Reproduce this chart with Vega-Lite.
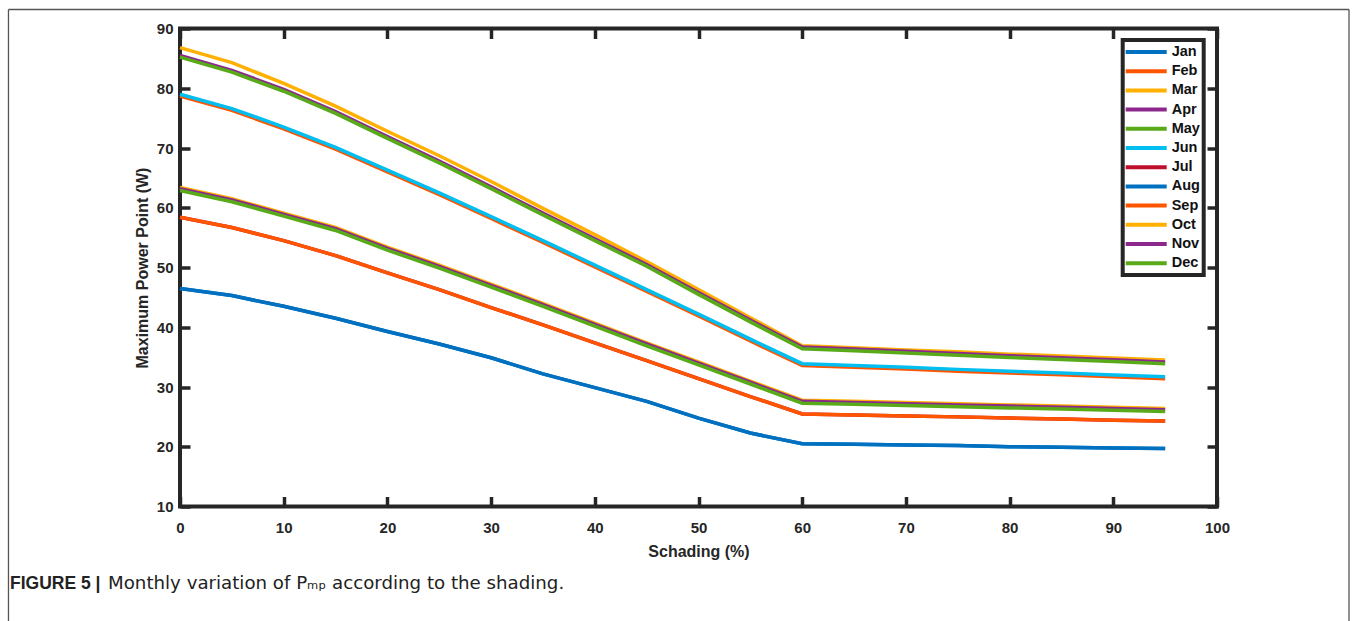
{
  "$schema": "https://vega.github.io/schema/vega-lite/v6.json",
  "width": 1037,
  "height": 478,
  "autosize": {"type": "none"},
  "padding": {"left": 180, "top": 28.5, "right": 140, "bottom": 114.5},
  "background": "white",
  "config": {
    "view": {"stroke": "#262626", "strokeWidth": 4},
    "font": "Liberation Sans",
    "axis": {
      "grid": false,
      "domain": false,
      "tickColor": "#262626",
      "tickWidth": 3.5,
      "tickSize": -10,
      "labelFont": "Liberation Sans",
      "labelFontWeight": "bold",
      "labelFontSize": 15,
      "labelColor": "#262626",
      "titleFont": "Liberation Sans",
      "titleFontWeight": "bold",
      "titleFontSize": 16,
      "titleColor": "#262626"
    },
    "legend": {
      "strokeColor": "#262626",
      "strokeWidth": 4,
      "fillColor": "white",
      "padding": 3,
      "rowPadding": 2.2,
      "symbolType": "M-3,0H3",
      "symbolSize": 187,
      "symbolStrokeWidth": 4,
      "symbolOffset": 11.5,
      "labelOffset": 16.5,
      "labelFont": "Liberation Sans",
      "labelFontWeight": "bold",
      "labelFontSize": 14.5,
      "labelColor": "#111111"
    }
  },
  "datasets": {
    "pmp": [
      {"s": 0, "Jan": 46.5, "Feb": 78.7, "Mar": 63.4, "Apr": 63.2, "May": 62.9, "Jun": 79.0, "Jul": 58.4, "Aug": 46.5, "Sep": 58.4, "Oct": 86.8, "Nov": 85.5, "Dec": 85.2},
      {"s": 5, "Jan": 45.3, "Feb": 76.3, "Mar": 61.5, "Apr": 61.3, "May": 61.0, "Jun": 76.6, "Jul": 56.7, "Aug": 45.3, "Sep": 56.7, "Oct": 84.3, "Nov": 83.0, "Dec": 82.7},
      {"s": 10, "Jan": 43.5, "Feb": 73.2, "Mar": 59.1, "Apr": 58.9, "May": 58.6, "Jun": 73.5, "Jul": 54.5, "Aug": 43.5, "Sep": 54.5, "Oct": 80.8, "Nov": 79.8, "Dec": 79.5},
      {"s": 15, "Jan": 41.5, "Feb": 69.8, "Mar": 56.7, "Apr": 56.5, "May": 56.2, "Jun": 70.1, "Jul": 52.0, "Aug": 41.5, "Sep": 52.0, "Oct": 77.0, "Nov": 76.1, "Dec": 75.8},
      {"s": 20, "Jan": 39.3, "Feb": 66.0, "Mar": 53.4, "Apr": 53.2, "May": 52.9, "Jun": 66.3, "Jul": 49.1, "Aug": 39.3, "Sep": 49.1, "Oct": 72.8, "Nov": 71.9, "Dec": 71.6},
      {"s": 25, "Jan": 37.2, "Feb": 62.2, "Mar": 50.4, "Apr": 50.2, "May": 49.9, "Jun": 62.5, "Jul": 46.3, "Aug": 37.2, "Sep": 46.3, "Oct": 68.7, "Nov": 67.8, "Dec": 67.5},
      {"s": 30, "Jan": 34.9, "Feb": 58.2, "Mar": 47.2, "Apr": 47.0, "May": 46.7, "Jun": 58.5, "Jul": 43.3, "Aug": 34.9, "Sep": 43.3, "Oct": 64.4, "Nov": 63.5, "Dec": 63.2},
      {"s": 35, "Jan": 32.2, "Feb": 54.2, "Mar": 44.0, "Apr": 43.8, "May": 43.5, "Jun": 54.5, "Jul": 40.4, "Aug": 32.2, "Sep": 40.4, "Oct": 59.9, "Nov": 59.1, "Dec": 58.8},
      {"s": 40, "Jan": 29.9, "Feb": 50.1, "Mar": 40.7, "Apr": 40.5, "May": 40.2, "Jun": 50.4, "Jul": 37.4, "Aug": 29.9, "Sep": 37.4, "Oct": 55.5, "Nov": 54.8, "Dec": 54.5},
      {"s": 45, "Jan": 27.6, "Feb": 46.0, "Mar": 37.4, "Apr": 37.2, "May": 36.9, "Jun": 46.3, "Jul": 34.4, "Aug": 27.6, "Sep": 34.4, "Oct": 51.0, "Nov": 50.5, "Dec": 50.2},
      {"s": 50, "Jan": 24.8, "Feb": 41.9, "Mar": 34.2, "Apr": 34.0, "May": 33.7, "Jun": 42.2, "Jul": 31.4, "Aug": 24.8, "Sep": 31.4, "Oct": 46.3, "Nov": 45.8, "Dec": 45.5},
      {"s": 55, "Jan": 22.3, "Feb": 37.7, "Mar": 31.0, "Apr": 30.8, "May": 30.5, "Jun": 38.0, "Jul": 28.4, "Aug": 22.3, "Sep": 28.4, "Oct": 41.6, "Nov": 41.2, "Dec": 40.9},
      {"s": 60, "Jan": 20.5, "Feb": 33.6, "Mar": 27.8, "Apr": 27.6, "May": 27.3, "Jun": 33.9, "Jul": 25.5, "Aug": 20.5, "Sep": 25.5, "Oct": 36.9, "Nov": 36.7, "Dec": 36.4},
      {"s": 65, "Jan": 20.4, "Feb": 33.3, "Mar": 27.6, "Apr": 27.4, "May": 27.1, "Jun": 33.6, "Jul": 25.3, "Aug": 20.4, "Sep": 25.3, "Oct": 36.55, "Nov": 36.35, "Dec": 36.05},
      {"s": 70, "Jan": 20.3, "Feb": 33.0, "Mar": 27.4, "Apr": 27.2, "May": 26.9, "Jun": 33.3, "Jul": 25.15, "Aug": 20.3, "Sep": 25.15, "Oct": 36.2, "Nov": 36.0, "Dec": 35.7},
      {"s": 75, "Jan": 20.2, "Feb": 32.65, "Mar": 27.2, "Apr": 27.0, "May": 26.7, "Jun": 32.95, "Jul": 25.0, "Aug": 20.2, "Sep": 25.0, "Oct": 35.9, "Nov": 35.6, "Dec": 35.3},
      {"s": 80, "Jan": 20.0, "Feb": 32.35, "Mar": 27.0, "Apr": 26.8, "May": 26.5, "Jun": 32.65, "Jul": 24.8, "Aug": 20.0, "Sep": 24.8, "Oct": 35.5, "Nov": 35.25, "Dec": 34.95},
      {"s": 85, "Jan": 19.9, "Feb": 32.05, "Mar": 26.8, "Apr": 26.6, "May": 26.3, "Jun": 32.35, "Jul": 24.65, "Aug": 19.9, "Sep": 24.65, "Oct": 35.2, "Nov": 34.9, "Dec": 34.6},
      {"s": 90, "Jan": 19.8, "Feb": 31.7, "Mar": 26.6, "Apr": 26.4, "May": 26.1, "Jun": 32.0, "Jul": 24.45, "Aug": 19.8, "Sep": 24.45, "Oct": 34.85, "Nov": 34.55, "Dec": 34.25},
      {"s": 95, "Jan": 19.7, "Feb": 31.4, "Mar": 26.4, "Apr": 26.2, "May": 25.9, "Jun": 31.7, "Jul": 24.3, "Aug": 19.7, "Sep": 24.3, "Oct": 34.5, "Nov": 34.2, "Dec": 33.9}
    ]
  },
  "layer": [
    {
      "data": {"values": [
        {"a": -16.54, "b": 112.73, "c": 93.18, "d": 93.18},
        {"a": -16.54, "b": -16.54, "c": 93.18, "d": -10},
        {"a": 112.73, "b": 112.73, "c": 93.18, "d": -10}
      ]},
      "mark": {"type": "rule", "color": "#555555", "strokeWidth": 1.3},
      "encoding": {
        "x": {"field": "a", "type": "quantitative", "axis": null},
        "x2": {"field": "b"},
        "y": {"field": "c", "type": "quantitative", "axis": null},
        "y2": {"field": "d"}
      }
    },
    {
      "data": {"name": "pmp"},
      "transform": [{"fold": ["Jan", "Feb", "Mar", "Apr", "May", "Jun", "Jul", "Aug", "Sep", "Oct", "Nov", "Dec"], "as": ["month", "pmp"]}],
      "mark": {"type": "line", "strokeWidth": 3.5},
      "encoding": {
        "x": {
          "field": "s", "type": "quantitative",
          "scale": {"domain": [0, 100], "nice": false, "zero": false},
          "axis": {"orient": "bottom", "values": [0, 10, 20, 30, 40, 50, 60, 70, 80, 90, 100], "title": "Schading (%)", "labelPadding": 24, "titlePadding": 8, "labelFlush": false}
        },
        "y": {
          "field": "pmp", "type": "quantitative",
          "scale": {"domain": [10, 90], "nice": false, "zero": false},
          "axis": {"orient": "left", "values": [10, 20, 30, 40, 50, 60, 70, 80, 90], "title": "Maximum Power Point (W)", "labelPadding": 17, "titlePadding": 5.5}
        },
        "color": {
          "field": "month", "type": "nominal",
          "scale": {
            "domain": ["Jan", "Feb", "Mar", "Apr", "May", "Jun", "Jul", "Aug", "Sep", "Oct", "Nov", "Dec"],
            "range": ["#0070C0", "#FF5500", "#FFB000", "#8C288C", "#58AA19", "#00BEF0", "#BE0F2D", "#0070C0", "#FF5500", "#FFB000", "#8C288C", "#58AA19"]
          },
          "legend": {"title": null, "orient": "none", "legendX": 942.7, "legendY": 11.5, "direction": "vertical"}
        }
      }
    },
    {
      "data": {"name": "pmp"},
      "mark": {"type": "line", "opacity": 0},
      "encoding": {
        "x": {"field": "s", "type": "quantitative", "axis": {"orient": "top", "values": [0, 10, 20, 30, 40, 50, 60, 70, 80, 90, 100], "labels": false, "title": null}},
        "y": {"field": "Jan", "type": "quantitative", "axis": {"orient": "right", "values": [10, 20, 30, 40, 50, 60, 70, 80, 90], "labels": false, "title": null}}
      }
    },
    {
      "data": {"values": [{"cx": -16.39, "cy": -3.8, "t": "FIGURE 5 |"}]},
      "mark": {"type": "text", "align": "left", "baseline": "alphabetic", "fontWeight": "bold", "fontSize": 17.5, "font": "Liberation Sans", "color": "#222222"},
      "encoding": {
        "x": {"field": "cx", "type": "quantitative", "axis": null},
        "y": {"field": "cy", "type": "quantitative", "axis": null},
        "text": {"field": "t"}
      }
    },
    {
      "data": {"values": [{"cx": -6.94, "cy": -3.8, "t": "Monthly variation of Pₘₚ according to the shading."}]},
      "mark": {"type": "text", "align": "left", "baseline": "alphabetic", "fontSize": 18.2, "font": "DejaVu Sans", "color": "#222222"},
      "encoding": {
        "x": {"field": "cx", "type": "quantitative", "axis": null},
        "y": {"field": "cy", "type": "quantitative", "axis": null},
        "text": {"field": "t"}
      }
    }
  ],
  "resolve": {"axis": {"x": "independent", "y": "independent"}}
}
